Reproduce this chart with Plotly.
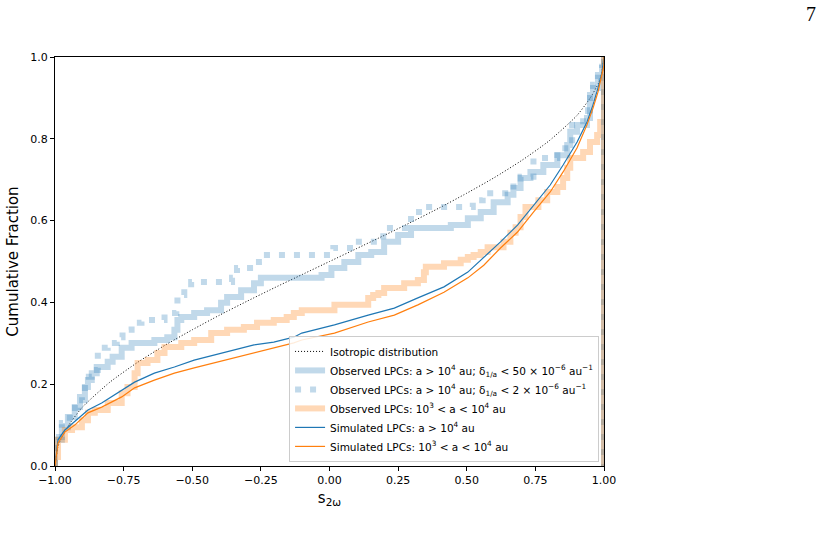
import plotly.graph_objects as go

# ---------------- data ----------------
iso_x = [-1.0, -0.99, -0.98, -0.95, -0.9, -0.8, -0.7, -0.6, -0.5, -0.4, -0.3, -0.2, -0.1, 0.0,
         0.1, 0.2, 0.3, 0.4, 0.5, 0.6, 0.7, 0.8, 0.9, 0.95, 0.98, 0.99, 1.0]
iso_y = [0.0, 0.045, 0.064, 0.100, 0.144, 0.205, 0.253, 0.295, 0.333, 0.369, 0.403, 0.436, 0.468, 0.500,
         0.532, 0.564, 0.597, 0.631, 0.667, 0.705, 0.747, 0.795, 0.856, 0.900, 0.936, 0.955, 1.0]

obs50_x = [-1.0, -1.0, -0.975, -0.953, -0.928, -0.909, -0.891, -0.880, -0.866, -0.848, -0.808, -0.790,
           -0.757, -0.721, -0.638, -0.591, -0.565, -0.554, -0.540, -0.493, -0.446, -0.395, -0.373,
           -0.322, -0.275, -0.250, -0.029, 0.007, 0.054, 0.105, 0.152, 0.199, 0.250, 0.297, 0.442,
           0.504, 0.551, 0.598, 0.649, 0.670, 0.696, 0.732, 0.779, 0.830, 0.866, 0.877, 0.902,
           0.938, 0.949, 0.960, 0.978, 0.993, 1.0, 1.0]
obs50_y = [0.0, 0.064, 0.095, 0.120, 0.144, 0.169, 0.193, 0.210, 0.227, 0.242, 0.255, 0.267,
           0.289, 0.301, 0.308, 0.315, 0.333, 0.357, 0.364, 0.374, 0.381, 0.399, 0.413,
           0.430, 0.447, 0.460, 0.467, 0.484, 0.499, 0.516, 0.523, 0.548, 0.565, 0.582, 0.589,
           0.606, 0.621, 0.645, 0.663, 0.680, 0.704, 0.719, 0.736, 0.760, 0.785, 0.817, 0.834,
           0.851, 0.900, 0.924, 0.956, 0.976, 1.0, 0.0]

obs2_x = [-1.0, -1.0, -0.975, -0.946, -0.917, -0.891, -0.866, -0.844, -0.808, -0.775, -0.754, -0.721,
          -0.685, -0.601, -0.558, -0.554, -0.529, -0.504, -0.355, -0.337, -0.257, -0.228, 0.014,
          0.091, 0.196, 0.297, 0.341, 0.522, 0.558, 0.670, 0.696, 0.743, 0.830, 0.859, 0.884,
          0.924, 0.942, 0.949, 0.960, 0.978, 0.993, 1.0, 1.0]
obs2_y = [0.0, 0.071, 0.105, 0.142, 0.161, 0.218, 0.235, 0.289, 0.301, 0.315, 0.333, 0.350,
          0.357, 0.374, 0.381, 0.418, 0.435, 0.450, 0.460, 0.484, 0.499, 0.516, 0.533,
          0.548, 0.582, 0.621, 0.633, 0.650, 0.667, 0.694, 0.707, 0.753, 0.768, 0.785, 0.834,
          0.851, 0.870, 0.907, 0.932, 0.949, 0.973, 1.0, 0.0]

obs3_x = [-1.0, -1.0, -0.989, -0.964, -0.938, -0.902, -0.880, -0.855, -0.808, -0.757, -0.736, -0.710,
          -0.699, -0.663, -0.627, -0.601, -0.540, -0.493, -0.431, -0.373, -0.312, -0.264, -0.203,
          -0.156, -0.130, -0.101, 0.018, 0.141, 0.159, 0.178, 0.199, 0.272, 0.322, 0.344, 0.351,
          0.417, 0.478, 0.504, 0.525, 0.551, 0.576, 0.634, 0.659, 0.678, 0.696, 0.714, 0.761,
          0.793, 0.830, 0.851, 0.866, 0.877, 0.924, 0.949, 0.975, 0.986, 1.0, 1.0]
obs3_y = [0.0, 0.022, 0.064, 0.088, 0.095, 0.112, 0.130, 0.137, 0.154, 0.178, 0.193, 0.227,
          0.252, 0.259, 0.276, 0.291, 0.301, 0.308, 0.325, 0.333, 0.340, 0.350, 0.357,
          0.364, 0.374, 0.381, 0.394, 0.411, 0.418, 0.423, 0.435, 0.447, 0.455, 0.474, 0.487,
          0.496, 0.504, 0.511, 0.516, 0.523, 0.535, 0.548, 0.570, 0.584, 0.609, 0.633, 0.650,
          0.670, 0.682, 0.704, 0.729, 0.753, 0.768, 0.792, 0.809, 0.841, 1.0, 0.0]

sim4_x = [-1.0, -0.996, -0.989, -0.964, -0.928, -0.880, -0.830, -0.757, -0.710, -0.638, -0.565,
          -0.493, -0.420, -0.348, -0.275, -0.203, -0.130, -0.101, 0.018, 0.141, 0.236, 0.322,
          0.417, 0.504, 0.562, 0.623, 0.685, 0.743, 0.804, 0.851, 0.902, 0.938, 0.960, 0.978,
          0.993, 0.996, 1.0]
sim4_y = [0.0, 0.030, 0.064, 0.088, 0.108, 0.137, 0.154, 0.186, 0.205, 0.227, 0.242,
          0.259, 0.271, 0.284, 0.296, 0.303, 0.315, 0.325, 0.345, 0.369, 0.386, 0.411,
          0.438, 0.474, 0.509, 0.548, 0.589, 0.638, 0.687, 0.736, 0.792, 0.841, 0.883, 0.924,
          0.963, 0.980, 1.0]

sim3_x = [-1.0, -0.996, -0.989, -0.964, -0.928, -0.880, -0.830, -0.757, -0.710, -0.638, -0.565,
          -0.493, -0.420, -0.348, -0.275, -0.203, -0.130, -0.101, 0.018, 0.141, 0.236, 0.322,
          0.417, 0.504, 0.562, 0.623, 0.685, 0.743, 0.804, 0.851, 0.902, 0.938, 0.960, 0.978,
          0.993, 1.0, 1.0]
sim3_y = [0.0, 0.025, 0.056, 0.083, 0.100, 0.130, 0.144, 0.169, 0.191, 0.210, 0.227,
          0.240, 0.252, 0.264, 0.276, 0.289, 0.301, 0.308, 0.325, 0.352, 0.369, 0.394,
          0.425, 0.460, 0.491, 0.533, 0.572, 0.621, 0.670, 0.719, 0.778, 0.834, 0.875, 0.914,
          0.956, 0.980, 1.0]

x_ticks = [-1.0, -0.75, -0.5, -0.25, 0.0, 0.25, 0.5, 0.75, 1.0]
x_tick_text = ["\u22121.00", "\u22120.75", "\u22120.50", "\u22120.25", "0.00", "0.25", "0.50", "0.75", "1.00"]
y_ticks = [0.0, 0.2, 0.4, 0.6, 0.8, 1.0]
y_tick_text = ["0.0", "0.2", "0.4", "0.6", "0.8", "1.0"]

labels = [
    "Isotropic distribution",
    "Observed LPCs: a > 10<sup>4</sup> au; \u03b4<sub>1/a</sub> < 50 \u00d7 10<sup>\u22126</sup> au<sup>\u22121</sup>",
    "Observed LPCs: a > 10<sup>4</sup> au; \u03b4<sub>1/a</sub> < 2 \u00d7 10<sup>\u22126</sup> au<sup>\u22121</sup>",
    "Observed LPCs: 10<sup>3</sup> < a < 10<sup>4</sup> au",
    "Simulated LPCs: a > 10<sup>4</sup> au",
    "Simulated LPCs: 10<sup>3</sup> < a < 10<sup>4</sup> au",
]

BLUE = "#1f77b4"
ORANGE = "#ff7f0e"
BLUE_A = "rgba(31,119,180,0.28)"
ORANGE_A = "rgba(255,127,14,0.3)"

fig = go.Figure()
fig.add_trace(go.Scatter(x=iso_x, y=iso_y, mode="lines", name=labels[0],
                         line=dict(color="black", width=1, dash="1px,2px", shape="spline", smoothing=0.6)))
fig.add_trace(go.Scatter(x=obs50_x, y=obs50_y, mode="lines", name=labels[1],
                         line=dict(color=BLUE_A, width=6, shape="hv")))
fig.add_trace(go.Scatter(x=obs2_x, y=obs2_y, mode="lines", name=labels[2],
                         line=dict(color=BLUE_A, width=6, shape="hv", dash="6px,9px")))
fig.add_trace(go.Scatter(x=obs3_x, y=obs3_y, mode="lines", name=labels[3],
                         line=dict(color=ORANGE_A, width=6, shape="hv")))
fig.add_trace(go.Scatter(x=sim4_x, y=sim4_y, mode="lines", name=labels[4],
                         line=dict(color=BLUE, width=1.2)))
fig.add_trace(go.Scatter(x=sim3_x, y=sim3_y, mode="lines", name=labels[5],
                         line=dict(color=ORANGE, width=1.2)))

axis_common = dict(showline=True, linecolor="black", linewidth=1, mirror=True,
                   ticks="outside", ticklen=4, tickwidth=1, tickcolor="black",
                   showgrid=False, zeroline=False,
                   tickfont=dict(family="DejaVu Sans", size=11, color="black"))

fig.update_xaxes(range=[-1.0, 1.0], tickmode="array", tickvals=x_ticks, ticktext=x_tick_text,
                 title=dict(text="s<sub>2\u03c9</sub>", font=dict(family="DejaVu Sans", size=15, color="black"),
                            standoff=6),
                 **axis_common)
fig.update_yaxes(range=[0.0, 1.0], tickmode="array", tickvals=y_ticks, ticktext=y_tick_text,
                 title=dict(text="Cumulative Fraction", font=dict(family="DejaVu Sans", size=15, color="black"),
                            standoff=8),
                 **axis_common)

fig.update_layout(
    width=829, height=535,
    margin=dict(l=52, r=225, t=57, b=69),
    paper_bgcolor="white", plot_bgcolor="white",
    showlegend=True,
    legend=dict(x=0.991, y=0.01, xanchor="right", yanchor="bottom",
                bgcolor="rgba(255,255,255,0.85)", bordercolor="#cccccc", borderwidth=1,
                font=dict(family="DejaVu Sans", size=10.5, color="black"),
                tracegroupgap=0, itemwidth=30),
    annotations=[dict(text="7", x=812, y=12, xref="paper", yref="paper", showarrow=False,
                      font=dict(family="Liberation Serif", size=20, color="black"))],
)
# place page number in pixel-based paper coordinates
fig.layout.annotations[0].update(x=(812 - 52) / 552, y=(466 - 14) / 409, xanchor="center", yanchor="middle")

fig.write_html("out.html")
